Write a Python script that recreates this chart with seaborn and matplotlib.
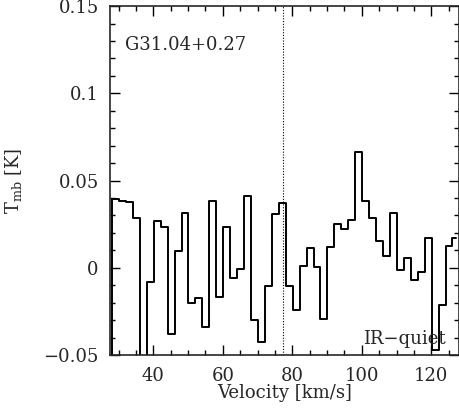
import numpy as np
import pandas as pd
import matplotlib
matplotlib.use("Agg")
import matplotlib.pyplot as plt
import seaborn as sns
from matplotlib.ticker import MultipleLocator, FuncFormatter

# ── Data ─────────────────────────────────────────────────────────────────────
velocity = [27.1, 29.1, 31.1, 33.1, 35.1, 37.1, 39.1, 41.1, 43.1, 45.1,
            47.1, 49.1, 51.1, 53.1, 55.1, 57.1, 59.1, 61.1, 63.1, 65.1,
            67.1, 69.1, 71.1, 73.1, 75.1, 77.1, 79.1, 81.1, 83.1, 85.1,
            87.1, 89.1, 91.1, 93.1, 95.1, 97.1, 99.1, 101.1, 103.1, 105.1,
            107.1, 109.1, 111.1, 113.1, 115.1, 117.1, 119.1, 121.1, 123.1, 125.1,
            127.1]
tmb = [-0.060, 0.0392, 0.0383, 0.0379, 0.0287, -0.060, -0.0080, 0.0268, 0.0232, -0.0381,
       0.0098, 0.0315, -0.0200, -0.0172, -0.0341, 0.0384, -0.0166, 0.0232, -0.0057, -0.0009,
       0.0413, -0.0299, -0.0427, -0.0103, 0.0306, 0.0369, -0.0103, -0.0242, 0.0010, 0.0111,
       0.0003, -0.0294, 0.0121, 0.0251, 0.0220, 0.0274, 0.0665, 0.0383, 0.0285, 0.0153,
       0.0067, 0.0312, -0.0013, 0.0054, -0.0070, -0.0023, 0.0169, -0.0471, -0.0213, 0.0125,
       0.0169]
v_ref = 77.4
source_name = "G31.04+0.27"
source_class = "IR\u2212quiet"
ytick_labels = {-0.05: "\u22120.05", 0.0: "0", 0.05: "0.05", 0.1: "0.1", 0.15: "0.15"}

df = pd.DataFrame({"velocity": velocity, "tmb": tmb})

# ── Style ────────────────────────────────────────────────────────────────────
sns.set_style("ticks")
plt.rcParams["font.family"] = ["DejaVu Serif"]
plt.rcParams["mathtext.fontset"] = "dejavuserif"
plt.rcParams["xtick.direction"] = "in"
plt.rcParams["ytick.direction"] = "in"

fig = plt.figure(figsize=(4.6, 4.08), dpi=100)
ax = fig.add_axes([0.239, 0.130, 0.759, 0.855])

sns.lineplot(data=df, x="velocity", y="tmb", drawstyle="steps-mid",
             color="black", lw=1.4, ax=ax)
ax.axvline(v_ref, color="black", lw=0.8, ls=(0, (1, 1.5)))

ax.set_xlim(27.5, 128.0)
ax.set_ylim(-0.05, 0.15)
ax.xaxis.set_major_locator(MultipleLocator(20))
ax.xaxis.set_minor_locator(MultipleLocator(5))
ax.yaxis.set_major_locator(MultipleLocator(0.05))
ax.yaxis.set_minor_locator(MultipleLocator(0.01))
ax.yaxis.set_major_formatter(FuncFormatter(
    lambda y, _: ytick_labels.get(round(y, 2), "")))
ax.tick_params(which="both", top=True, right=True, labelsize=13, width=1, color="black")
ax.tick_params(which="major", length=7)
ax.tick_params(axis="x", which="major", pad=9)
ax.tick_params(axis="y", which="major", pad=8)
ax.tick_params(which="minor", length=3.5)
for s in ax.spines.values():
    s.set_linewidth(1.2)

ax.set_xlabel("Velocity [km/s]", fontsize=13, labelpad=-1)
ax.set_ylabel(r"T$_{\rm mb}$ [K]", fontsize=13, labelpad=14)

ax.text(0.043, 0.888, source_name, transform=ax.transAxes, fontsize=13,
        ha="left", va="center")
ax.text(0.963, 0.045, source_class, transform=ax.transAxes, fontsize=13,
        ha="right", va="center")

fig.savefig("out.png", dpi=100)
